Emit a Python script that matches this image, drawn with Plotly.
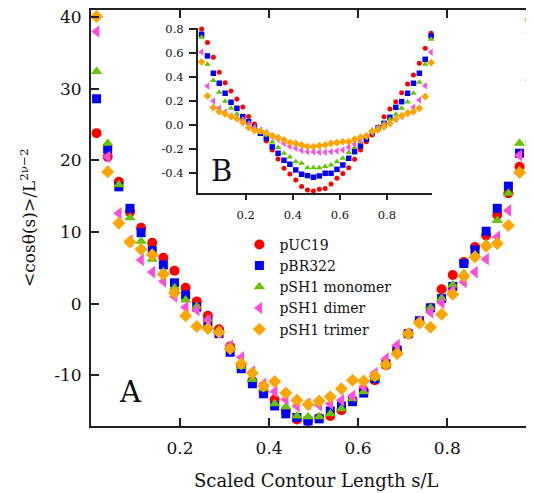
import plotly.graph_objects as go

# ---------------- data ----------------
s_vals = [0.0125, 0.0375, 0.0625, 0.0875, 0.1125, 0.1375, 0.1625, 0.1875, 0.2125, 0.2375,
          0.2625, 0.2875, 0.3125, 0.3375, 0.3625, 0.3875, 0.4125, 0.4375, 0.4625, 0.4875,
          0.5125, 0.5375, 0.5625, 0.5875, 0.6125, 0.6375, 0.6625, 0.6875, 0.7125, 0.7375,
          0.7625, 0.7875, 0.8125, 0.8375, 0.8625, 0.8875, 0.9125, 0.9375, 0.9625, 0.9875]

series_names = ["pUC19", "pBR322", "pSH1 monomer", "pSH1 dimer", "pSH1 trimer"]

puc19_main = [23.8, 20.5, 17.0, 12.8, 10.6, 8.5, 6.4, 4.6, 2.2, 0.3, -1.7, -3.6, -6.0, -8.7, -10.8,
              -12.3, -13.4, -15.0, -16.2, -16.4, -16.0, -15.7, -14.9, -13.5, -12.1, -10.7, -8.6,
              -6.4, -4.2, -2.5, -0.6, 2.0, 4.0, 5.8, 7.9, 9.5, 12.4, 15.4, 19.1, 22.6]
pbr322_main = [28.6, 21.6, 16.3, 13.3, 9.9, 7.4, 5.4, 2.9, 1.2, -0.5, -2.6, -4.2, -6.8, -9.1, -11.2,
               -12.6, -14.3, -15.4, -15.9, -16.4, -16.1, -15.0, -14.3, -13.7, -12.5, -10.5, -8.4,
               -6.5, -4.2, -2.4, -0.6, 0.7, 2.4, 5.6, 7.5, 10.1, 13.3, 16.4, 21.0, 27.8]
mono_main = [32.4, 22.4, 16.6, 12.0, 8.7, 6.2, 4.4, 2.2, 0.5, -0.4, -2.2, -3.7, -6.2, -8.8, -10.6,
             -11.9, -14.0, -14.4, -15.7, -15.8, -15.8, -15.4, -14.7, -13.3, -12.3, -10.4, -8.6,
             -6.6, -4.3, -2.5, -0.6, 0.7, 2.6, 4.2, 6.8, 8.4, 11.6, 15.4, 22.4, 31.5]
dimer_main = [38.0, 20.5, 12.6, 8.8, 6.1, 4.4, 3.1, 1.0, -0.5, -0.9, -2.3, -4.0, -5.9, -7.5, -9.5,
              -11.2, -12.3, -13.4, -14.3, -14.0, -14.2, -14.0, -13.5, -12.9, -11.6, -9.7, -7.7,
              -5.8, -4.2, -2.5, -1.2, 0.1, 1.8, 3.0, 4.4, 6.2, 9.3, 13.0, 20.7, 37.9]
trimer_main = [40.1, 18.4, 11.2, 8.6, 7.6, 6.8, 4.1, 1.5, -1.7, -3.2, -3.5, -4.0, -6.3, -8.4, -9.7,
               -11.5, -10.9, -12.5, -13.5, -14.1, -13.6, -13.0, -11.9, -10.7, -10.8, -10.1, -8.5,
               -7.0, -4.2, -2.7, -3.3, -1.5, 1.3, 3.8, 6.5, 8.0, 8.4, 10.9, 18.3, 39.7]

puc19_inset = [0.80, 0.687, 0.565, 0.44, 0.354, 0.285, 0.219, 0.152, 0.072, 0.011, -0.055, -0.13,
               -0.205, -0.28, -0.357, -0.404, -0.454, -0.509, -0.537, -0.545, -0.532, -0.526,
               -0.487, -0.44, -0.40, -0.352, -0.282, -0.205, -0.136, -0.08, -0.017, 0.071, 0.135,
               0.196, 0.271, 0.343, 0.418, 0.515, 0.64, 0.764]
pbr322_inset = [0.756, 0.576, 0.432, 0.349, 0.266, 0.191, 0.141, 0.072, 0.03, -0.017, -0.066,
                -0.108, -0.18, -0.233, -0.291, -0.324, -0.371, -0.407, -0.418, -0.432, -0.421,
                -0.399, -0.399, -0.366, -0.33, -0.274, -0.219, -0.172, -0.116, -0.061, -0.02,
                0.016, 0.066, 0.149, 0.196, 0.266, 0.349, 0.432, 0.548, 0.742]
mono_inset = [0.731, 0.507, 0.371, 0.274, 0.199, 0.141, 0.094, 0.05, 0.017, -0.017, -0.061, -0.08,
              -0.138, -0.185, -0.233, -0.263, -0.302, -0.316, -0.352, -0.352, -0.352, -0.343,
              -0.33, -0.302, -0.274, -0.227, -0.185, -0.136, -0.08, -0.04, -0.011, 0.017, 0.05,
              0.091, 0.141, 0.194, 0.266, 0.357, 0.507, 0.714]
dimer_inset = [0.609, 0.327, 0.202, 0.141, 0.11, 0.08, 0.06, 0.04, 0.01, -0.019, -0.039, -0.06,
               -0.094, -0.116, -0.15, -0.177, -0.19, -0.21, -0.219, -0.219, -0.224, -0.224,
               -0.22, -0.213, -0.205, -0.183, -0.155, -0.127, -0.094, -0.061, -0.02, 0.002, 0.02,
               0.05, 0.072, 0.10, 0.149, 0.21, 0.329, 0.606]
trimer_inset = [0.526, 0.244, 0.147, 0.114, 0.094, 0.072, 0.055, 0.022, -0.019, -0.044, -0.047,
                -0.066, -0.086, -0.102, -0.122, -0.144, -0.15, -0.163, -0.177, -0.177, -0.169,
                -0.163, -0.15, -0.144, -0.136, -0.136, -0.116, -0.1, -0.089, -0.053, -0.039,
                -0.012, 0.017, 0.052, 0.08, 0.10, 0.113, 0.141, 0.238, 0.52]

main_x_tickvals = [0.2, 0.4, 0.6, 0.8]
main_x_ticktext = ["0.2", "0.4", "0.6", "0.8"]
main_y_tickvals = [-10, 0, 10, 20, 30, 40]
main_y_ticktext = ["-10", "0", "10", "20", "30", "40"]
inset_x_tickvals = [0.2, 0.4, 0.6, 0.8]
inset_x_ticktext = ["0.2", "0.4", "0.6", "0.8"]
inset_y_tickvals = [-0.4, -0.2, 0.0, 0.2, 0.4, 0.6, 0.8]
inset_y_ticktext = ["-0.4", "-0.2", "0.0", "0.2", "0.4", "0.6", "0.8"]

# ---------------- style ----------------
FONT = "DejaVu Serif"
colors = ["#ff0000", "#0000ff", "#66c400", "#ff4fd8", "#ffa500"]
symbols = ["circle", "square", "triangle-up", "triangle-left", "diamond"]
main_sizes = [10, 9, 10, 11, 10]
inset_sizes = [5, 5.5, 6, 6.5, 6]

main_data = [puc19_main, pbr322_main, mono_main, dimer_main, trimer_main]
inset_data = [puc19_inset, pbr322_inset, mono_inset, dimer_inset, trimer_inset]

fig = go.Figure()
for i, name in enumerate(series_names):
    fig.add_trace(go.Scatter(
        x=s_vals, y=main_data[i], mode="markers", name=name,
        marker=dict(symbol=symbols[i], color=colors[i], size=main_sizes[i], line=dict(width=0)),
        xaxis="x", yaxis="y", cliponaxis=False,
    ))
for i, name in enumerate(series_names):
    fig.add_trace(go.Scatter(
        x=s_vals, y=inset_data[i], mode="markers", name=name, showlegend=False,
        marker=dict(symbol=symbols[i], color=colors[i], size=inset_sizes[i], line=dict(width=0)),
        xaxis="x2", yaxis="y2", cliponaxis=False,
    ))

axis_color = "#222222"
PW = 443.0  # plot-area width in px


def px_x(page_x):
    return (page_x - 91) / PW


# the page body adds an 8px offset, so the figure is sized to 526x485
fig.update_layout(
    width=526, height=485,
    margin=dict(l=83, r=0, t=2, b=67, autoexpand=False),
    paper_bgcolor="white", plot_bgcolor="white",
    font=dict(family=FONT, color="#111111"),
    showlegend=True,
    legend=dict(x=px_x(239.4), y=0.474, xanchor="left", yanchor="top",
                font=dict(family=FONT, size=14, color="#111111"),
                bgcolor="rgba(0,0,0,0)", borderwidth=0, tracegroupgap=0),
    xaxis=dict(domain=[0, 1], range=[0, 0.995], showgrid=False, zeroline=False,
               showline=True, linecolor=axis_color, linewidth=2, mirror="ticks",
               ticks="inside", ticklen=8, tickwidth=1.5, tickcolor=axis_color,
               tickvals=main_x_tickvals, ticktext=main_x_ticktext,
               tickfont=dict(family=FONT, size=17, color="#111111"), ticklabelstandoff=6,
               ticklabeloverflow="allow"),
    yaxis=dict(domain=[0, 1], range=[-17.1, 41.0], showgrid=False, zeroline=False,
               showline=True, linecolor=axis_color, linewidth=2,
               ticks="inside", ticklen=8, tickwidth=1.5, tickcolor=axis_color,
               tickvals=main_y_tickvals, ticktext=main_y_ticktext,
               tickfont=dict(family=FONT, size=17, color="#111111"), ticklabelstandoff=4,
               ticklabeloverflow="allow"),
    xaxis2=dict(domain=[px_x(197.7), px_x(431.7)], range=[-0.004, 0.99], anchor="y2",
                showgrid=False, zeroline=False, showline=True, linecolor=axis_color,
                linewidth=1.5, ticks="outside", ticklen=5, tickwidth=1.5, tickcolor=axis_color,
                tickvals=inset_x_tickvals, ticktext=inset_x_ticktext,
                tickfont=dict(family=FONT, size=11.5, color="#111111"), ticklabelstandoff=5),
    yaxis2=dict(domain=[0.5594, 0.9567], range=[-0.565, 0.808], anchor="x2",
                showgrid=False, zeroline=False, showline=True, linecolor=axis_color,
                linewidth=1.5, ticks="outside", ticklen=7, tickwidth=1.5, tickcolor=axis_color,
                tickvals=inset_y_tickvals, ticktext=inset_y_ticktext,
                tickfont=dict(family=FONT, size=11.5, color="#111111"), ticklabelstandoff=3),
    annotations=[
        dict(text="Scaled Contour Length s/L", xref="paper", yref="paper", x=px_x(316), y=-0.13,
             xanchor="center", yanchor="middle", showarrow=False,
             font=dict(family=FONT, size=18, color="#111111")),
        dict(text="<cosθ(s)>/L<sup>2ν−2</sup>", xref="paper", yref="paper", x=px_x(28), y=0.5,
             xanchor="center", yanchor="middle", showarrow=False, textangle=-90,
             font=dict(family=FONT, size=17, color="#111111")),
        dict(text="A", xref="paper", yref="paper", x=px_x(130), y=(426 - 392) / 416,
             xanchor="center", yanchor="middle", showarrow=False,
             font=dict(family=FONT, size=29, color="#111111")),
        dict(text="B", xref="paper", yref="paper", x=px_x(221), y=(426 - 171) / 416,
             xanchor="center", yanchor="middle", showarrow=False,
             font=dict(family=FONT, size=29, color="#111111")),
    ],
)

fig.write_html("out.html")
